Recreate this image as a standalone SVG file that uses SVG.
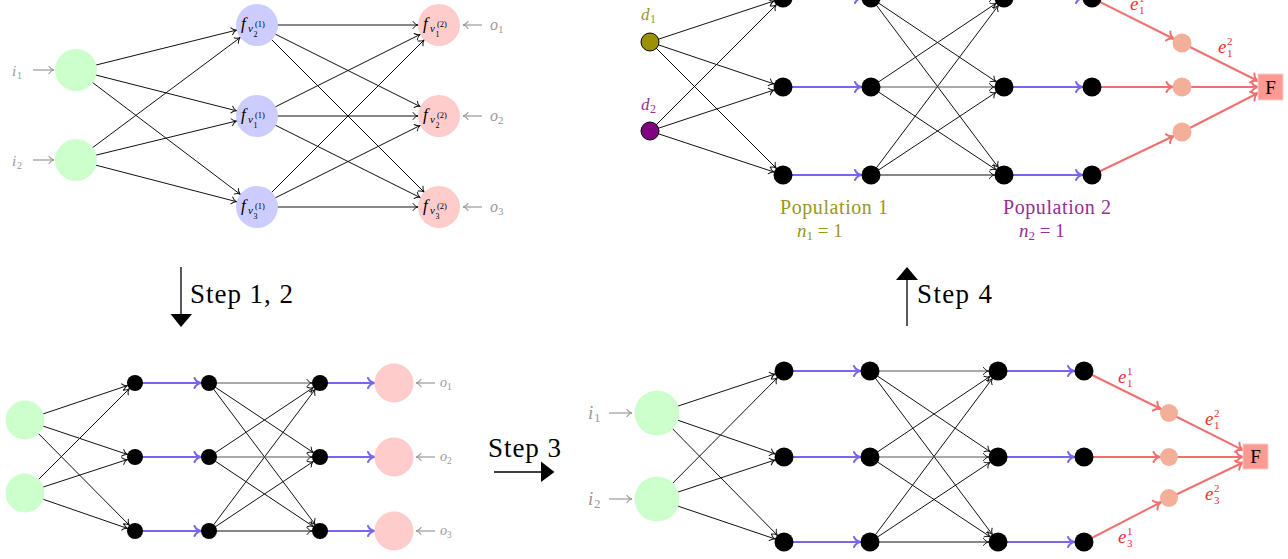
<svg xmlns="http://www.w3.org/2000/svg" width="1288" height="559" viewBox="0 0 1288 559" font-family="'Liberation Serif', 'Times New Roman', serif">
<style>
.e{stroke:#111;stroke-width:1;fill:none}
.eg{stroke:#555;stroke-width:1;fill:none}
.b{stroke:#7766ee;stroke-width:2;fill:none}
.r{stroke:#f07070;stroke-width:2;fill:none}
.g{stroke:#999;stroke-width:1.2;fill:none}
.t,text,tspan{font-family:'Liberation Serif','Times New Roman',serif}
.it{font-style:italic}
.grn{fill:#ccffcc}
.blu{fill:#ccccff}
.pnk{fill:#ffcccc}
.blk{fill:#000}
.sal{fill:#f4af9b}
.fbox{fill:#fa9a92;stroke:#fcc;stroke-width:1}
.gt{fill:#999}
.rt{fill:#f03030}
.ol{fill:#9c9620}
.pu{fill:#952e95}
</style>
<defs>
<marker id="ak21" markerUnits="userSpaceOnUse" orient="auto" refX="21" refY="0" markerWidth="1" markerHeight="1" overflow="visible"><path d="M-5,-3.5 C-3.5,-1.2 -1.5,-0.3 0,0 C-1.5,0.3 -3.5,1.2 -5,3.5" fill="none" stroke="#111" stroke-width="1" stroke-linecap="round"/></marker>
<marker id="ak95" markerUnits="userSpaceOnUse" orient="auto" refX="9.5" refY="0" markerWidth="1" markerHeight="1" overflow="visible"><path d="M-5,-3.5 C-3.5,-1.2 -1.5,-0.3 0,0 C-1.5,0.3 -3.5,1.2 -5,3.5" fill="none" stroke="#111" stroke-width="1" stroke-linecap="round"/></marker>
<marker id="ak8" markerUnits="userSpaceOnUse" orient="auto" refX="8" refY="0" markerWidth="1" markerHeight="1" overflow="visible"><path d="M-5,-3.5 C-3.5,-1.2 -1.5,-0.3 0,0 C-1.5,0.3 -3.5,1.2 -5,3.5" fill="none" stroke="#111" stroke-width="1" stroke-linecap="round"/></marker>
<marker id="ab95" markerUnits="userSpaceOnUse" orient="auto" refX="9.5" refY="0" markerWidth="1" markerHeight="1" overflow="visible"><path d="M-6.5,-5 C-5,-1.8 -2,-0.4 0,0 C-2,0.4 -5,1.8 -6.5,5" fill="none" stroke="#7766ee" stroke-width="2" stroke-linecap="round"/></marker>
<marker id="ab8" markerUnits="userSpaceOnUse" orient="auto" refX="8" refY="0" markerWidth="1" markerHeight="1" overflow="visible"><path d="M-6.5,-5 C-5,-1.8 -2,-0.4 0,0 C-2,0.4 -5,1.8 -6.5,5" fill="none" stroke="#7766ee" stroke-width="2" stroke-linecap="round"/></marker>
<marker id="ab195" markerUnits="userSpaceOnUse" orient="auto" refX="19.5" refY="0" markerWidth="1" markerHeight="1" overflow="visible"><path d="M-6.5,-5 C-5,-1.8 -2,-0.4 0,0 C-2,0.4 -5,1.8 -6.5,5" fill="none" stroke="#7766ee" stroke-width="2" stroke-linecap="round"/></marker>
<marker id="ar9" markerUnits="userSpaceOnUse" orient="auto" refX="9" refY="0" markerWidth="1" markerHeight="1" overflow="visible"><path d="M-6.5,-5 C-5,-1.8 -2,-0.4 0,0 C-2,0.4 -5,1.8 -6.5,5" fill="none" stroke="#f07070" stroke-width="2" stroke-linecap="round"/></marker>
<marker id="ar0" markerUnits="userSpaceOnUse" orient="auto" refX="0" refY="0" markerWidth="1" markerHeight="1" overflow="visible"><path d="M-6.5,-5 C-5,-1.8 -2,-0.4 0,0 C-2,0.4 -5,1.8 -6.5,5" fill="none" stroke="#f07070" stroke-width="2" stroke-linecap="round"/></marker>
<marker id="ag0" markerUnits="userSpaceOnUse" orient="auto" refX="0" refY="0" markerWidth="1" markerHeight="1" overflow="visible"><path d="M-5,-3.5 C-3.5,-1.2 -1.5,-0.3 0,0 C-1.5,0.3 -3.5,1.2 -5,3.5" fill="none" stroke="#999" stroke-width="1.2" stroke-linecap="round"/></marker>
</defs>

<g id="connectors">
<g class="e" marker-end="url(#ak21)">
<line x1="76" y1="70" x2="257" y2="25"/><line x1="76" y1="70" x2="257" y2="116"/><line x1="76" y1="70" x2="257" y2="207"/>
<line x1="76" y1="160" x2="257" y2="25"/><line x1="76" y1="160" x2="257" y2="116"/><line x1="76" y1="160" x2="257" y2="207"/>
<line x1="257" y1="25" x2="439" y2="25"/><line x1="257" y1="25" x2="439" y2="116"/><line x1="257" y1="25" x2="439" y2="207"/>
<line x1="257" y1="116" x2="439" y2="25"/><line x1="257" y1="116" x2="439" y2="116"/><line x1="257" y1="116" x2="439" y2="207"/>
<line x1="257" y1="207" x2="439" y2="25"/><line x1="257" y1="207" x2="439" y2="116"/><line x1="257" y1="207" x2="439" y2="207"/>
</g>
<g class="g" marker-end="url(#ag0)">
<line x1="33" y1="70" x2="54" y2="70"/><line x1="33" y1="160" x2="54" y2="160"/>
<line x1="482" y1="25" x2="463" y2="25"/><line x1="482" y1="116" x2="463" y2="116"/><line x1="482" y1="207" x2="463" y2="207"/>
<line x1="435" y1="383" x2="416" y2="383"/><line x1="435" y1="457" x2="416" y2="457"/><line x1="435" y1="531" x2="416" y2="531"/>
<line x1="609" y1="413" x2="632" y2="413"/><line x1="609" y1="499" x2="632" y2="499"/>
</g>
<g class="e" marker-end="url(#ak95)">
<line x1="650" y1="42" x2="783" y2="-2"/><line x1="650" y1="42" x2="783" y2="87"/><line x1="650" y1="42" x2="783" y2="175"/>
<line x1="650" y1="131" x2="783" y2="-2"/><line x1="650" y1="131" x2="783" y2="87"/><line x1="650" y1="131" x2="783" y2="175"/>
<line x1="871" y1="-2" x2="1004" y2="-2"/><line x1="871" y1="-2" x2="1004" y2="87"/><line x1="871" y1="-2" x2="1004" y2="175"/>
<line x1="871" y1="87" x2="1004" y2="-2"/><line x1="871" y1="87" x2="1004" y2="175"/>
<line x1="871" y1="175" x2="1004" y2="-2"/><line x1="871" y1="175" x2="1004" y2="87"/><line x1="871" y1="175" x2="1004" y2="175"/>
<line class="eg" x1="871" y1="87" x2="1004" y2="87"/>
</g>
<g class="b" marker-end="url(#ab95)">
<line x1="783" y1="-2" x2="871" y2="-2"/><line x1="783" y1="87" x2="871" y2="87"/><line x1="783" y1="175" x2="871" y2="175"/>
<line x1="1004" y1="-2" x2="1092" y2="-2"/><line x1="1004" y1="87" x2="1092" y2="87"/><line x1="1004" y1="175" x2="1092" y2="175"/>
</g>
<g class="r" marker-end="url(#ar9)">
<line x1="1092" y1="-2" x2="1182" y2="43"/><line x1="1092" y1="87" x2="1182" y2="87"/><line x1="1092" y1="175" x2="1182" y2="132"/>
<line x1="1084" y1="371" x2="1169" y2="413"/><line x1="1084" y1="457" x2="1169" y2="457"/><line x1="1084" y1="542" x2="1169" y2="498"/>
</g>
<g class="r" marker-end="url(#ar0)">
<line x1="1182" y1="43" x2="1258" y2="81"/><line x1="1182" y1="87" x2="1258" y2="87"/><line x1="1182" y1="132" x2="1258" y2="93"/>
<line x1="1169" y1="413" x2="1243" y2="450.2"/><line x1="1169" y1="457" x2="1243" y2="457"/><line x1="1169" y1="498" x2="1243" y2="462.5"/>
</g>
<g class="e" marker-end="url(#ak8)">
<line x1="25" y1="420" x2="135" y2="383"/><line x1="25" y1="420" x2="135" y2="457"/><line x1="25" y1="420" x2="135" y2="531"/>
<line x1="25" y1="493" x2="135" y2="383"/><line x1="25" y1="493" x2="135" y2="457"/><line x1="25" y1="493" x2="135" y2="531"/>
<line x1="209" y1="383" x2="320" y2="457"/><line x1="209" y1="383" x2="320" y2="531"/>
<line x1="209" y1="457" x2="320" y2="383"/><line x1="209" y1="457" x2="320" y2="531"/>
<line x1="209" y1="531" x2="320" y2="383"/><line x1="209" y1="531" x2="320" y2="457"/><line x1="209" y1="531" x2="320" y2="531"/>
<line class="eg" x1="209" y1="383" x2="320" y2="383"/><line class="eg" x1="209" y1="457" x2="320" y2="457"/>
</g>
<g class="b" marker-end="url(#ab8)">
<line x1="135" y1="383" x2="209" y2="383"/><line x1="135" y1="457" x2="209" y2="457"/><line x1="135" y1="531" x2="209" y2="531"/>
</g>
<g class="b" marker-end="url(#ab195)">
<line x1="320" y1="383" x2="394" y2="383"/><line x1="320" y1="457" x2="394" y2="457"/><line x1="320" y1="531" x2="394" y2="531"/>
</g>
<g class="e" marker-end="url(#ak95)">
<line x1="657" y1="413" x2="784" y2="371"/><line x1="657" y1="413" x2="784" y2="457"/><line x1="657" y1="413" x2="784" y2="542"/>
<line x1="657" y1="499" x2="784" y2="371"/><line x1="657" y1="499" x2="784" y2="457"/><line x1="657" y1="499" x2="784" y2="542"/>
<line x1="870" y1="371" x2="998" y2="457"/><line x1="870" y1="371" x2="998" y2="542"/>
<line x1="870" y1="457" x2="998" y2="371"/><line x1="870" y1="457" x2="998" y2="542"/>
<line x1="870" y1="542" x2="998" y2="371"/><line x1="870" y1="542" x2="998" y2="457"/><line x1="870" y1="542" x2="998" y2="542"/>
<line class="eg" x1="870" y1="371" x2="998" y2="371"/><line class="eg" x1="870" y1="457" x2="998" y2="457"/>
</g>
<g class="b" marker-end="url(#ab95)">
<line x1="784" y1="371" x2="870" y2="371"/><line x1="784" y1="457" x2="870" y2="457"/><line x1="784" y1="542" x2="870" y2="542"/>
<line x1="998" y1="371" x2="1084" y2="371"/><line x1="998" y1="457" x2="1084" y2="457"/><line x1="998" y1="542" x2="1084" y2="542"/>
</g>
<g id="steps" fill="#000" stroke="#000">
<line x1="181" y1="267" x2="181" y2="315" stroke-width="1.3"/>
<polygon points="170.5,314 192,314 181,327" stroke="none"/>
<line x1="494" y1="472" x2="542" y2="472" stroke-width="1.3"/>
<polygon points="541,461.5 541,482 554.5,472" stroke="none"/>
<line x1="907" y1="326" x2="907" y2="279" stroke-width="1.3"/>
<polygon points="896,280 918,280 907,267" stroke="none"/>
</g>
</g>

<g id="tl-in1"><circle class="grn" cx="76" cy="70" r="21"/></g>
<g id="tl-in2"><circle class="grn" cx="76" cy="160" r="21"/></g>
<g id="tl-h1">
<circle class="blu" cx="257" cy="25" r="21"/>
<text class="it" x="241" y="28.5" font-size="17">f</text><text class="it" x="248" y="31.5" font-size="11">v</text><text x="255" y="27" font-size="8.5">(1)</text><text x="253.5" y="37" font-size="8">2</text>
</g>
<g id="tl-h2">
<circle class="blu" cx="257" cy="116" r="21"/>
<text class="it" x="241" y="119.5" font-size="17">f</text><text class="it" x="248" y="122.5" font-size="11">v</text><text x="255" y="118" font-size="8.5">(1)</text><text x="253.5" y="128" font-size="8">1</text>
</g>
<g id="tl-h3">
<circle class="blu" cx="257" cy="207" r="21"/>
<text class="it" x="241" y="210.5" font-size="17">f</text><text class="it" x="248" y="213.5" font-size="11">v</text><text x="255" y="209" font-size="8.5">(1)</text><text x="253.5" y="219" font-size="8">3</text>
</g>
<g id="tl-o1">
<circle class="pnk" cx="439" cy="25" r="21"/>
<text class="it" x="423" y="28.5" font-size="17">f</text><text class="it" x="430" y="31.5" font-size="11">v</text><text x="437" y="27" font-size="8.5">(2)</text><text x="435.5" y="37" font-size="8">1</text>
</g>
<g id="tl-o2">
<circle class="pnk" cx="439" cy="116" r="21"/>
<text class="it" x="423" y="119.5" font-size="17">f</text><text class="it" x="430" y="122.5" font-size="11">v</text><text x="437" y="118" font-size="8.5">(2)</text><text x="435.5" y="128" font-size="8">2</text>
</g>
<g id="tl-o3">
<circle class="pnk" cx="439" cy="207" r="21"/>
<text class="it" x="423" y="210.5" font-size="17">f</text><text class="it" x="430" y="213.5" font-size="11">v</text><text x="437" y="209" font-size="8.5">(2)</text><text x="435.5" y="219" font-size="8">3</text>
</g>
<g id="tl-labels" class="gt">
<text class="it" x="12" y="76" font-size="15">i</text><text x="17" y="78.5" font-size="10">1</text>
<text class="it" x="12" y="166" font-size="15">i</text><text x="17" y="168.5" font-size="10">2</text>
<text class="it" x="490" y="30" font-size="16">o</text><text x="498" y="33" font-size="11">1</text>
<text class="it" x="490" y="121" font-size="16">o</text><text x="498" y="124" font-size="11">2</text>
<text class="it" x="490" y="212" font-size="16">o</text><text x="498" y="215" font-size="11">3</text>
</g>

<g id="tr-d1">
<circle cx="650" cy="42" r="9" fill="#999100" stroke="#000" stroke-width="1"/>
<text class="it ol" x="641" y="20" font-size="17">d</text><text class="ol" x="650" y="23" font-size="12">1</text>
</g>
<g id="tr-d2">
<circle cx="650" cy="131" r="9" fill="#800080" stroke="#000" stroke-width="1"/>
<text class="it pu" x="641" y="110" font-size="17">d</text><text class="pu" x="650" y="113" font-size="12">2</text>
</g>
<g id="tr-black" class="blk">
<circle cx="783" cy="-2" r="9.5"/><circle cx="783" cy="87" r="9.5"/><circle cx="783" cy="175" r="9.5"/>
<circle cx="871" cy="-2" r="9.5"/><circle cx="871" cy="87" r="9.5"/><circle cx="871" cy="175" r="9.5"/>
<circle cx="1004" cy="-2" r="9.5"/><circle cx="1004" cy="87" r="9.5"/><circle cx="1004" cy="175" r="9.5"/>
<circle cx="1092" cy="-2" r="9.5"/><circle cx="1092" cy="87" r="9.5"/><circle cx="1092" cy="175" r="9.5"/>
</g>
<g id="tr-sal" class="sal">
<circle cx="1182" cy="43" r="9.5"/><circle cx="1182" cy="87" r="9.5"/><circle cx="1182" cy="132" r="9.5"/>
</g>
<g id="tr-F">
<rect class="fbox" x="1258" y="74" width="25" height="26"/>
<text x="1270.5" y="93.5" font-size="19" text-anchor="middle" fill="#000">F</text>
</g>
<g id="tr-labels">
<text class="it rt" x="1130" y="10" font-size="19">e</text><text class="rt" x="1139" y="2" font-size="11">1</text><text class="rt" x="1139" y="14" font-size="11">1</text>
<text class="it rt" x="1218" y="53" font-size="19">e</text><text class="rt" x="1227" y="45" font-size="11">2</text><text class="rt" x="1227" y="57" font-size="11">1</text>
<text class="ol" x="780" y="214" font-size="20" textLength="108">Population 1</text>
<text class="ol" x="797" y="237" font-size="19"><tspan class="it">n</tspan><tspan font-size="13" dy="3">1</tspan><tspan dy="-3"> = 1</tspan></text>
<text class="pu" x="1003" y="214" font-size="20" textLength="108">Population 2</text>
<text class="pu" x="1019" y="237" font-size="19"><tspan class="it">n</tspan><tspan font-size="13" dy="3">2</tspan><tspan dy="-3"> = 1</tspan></text>
</g>

<g id="bl-in1"><circle class="grn" cx="25" cy="420" r="19.5"/></g>
<g id="bl-in2"><circle class="grn" cx="25" cy="493" r="19.5"/></g>
<g id="bl-black" class="blk">
<circle cx="135" cy="383" r="8"/><circle cx="135" cy="457" r="8"/><circle cx="135" cy="531" r="8"/>
<circle cx="209" cy="383" r="8"/><circle cx="209" cy="457" r="8"/><circle cx="209" cy="531" r="8"/>
<circle cx="320" cy="383" r="8"/><circle cx="320" cy="457" r="8"/><circle cx="320" cy="531" r="8"/>
</g>
<g id="bl-out" class="pnk">
<circle cx="394" cy="383" r="19.5"/><circle cx="394" cy="457" r="19.5"/><circle cx="394" cy="531" r="19.5"/>
</g>
<g id="bl-labels" class="gt">
<text class="it" x="440" y="387" font-size="14">o</text><text x="447" y="390" font-size="9.5">1</text>
<text class="it" x="440" y="461" font-size="14">o</text><text x="447" y="464" font-size="9.5">2</text>
<text class="it" x="440" y="535" font-size="14">o</text><text x="447" y="538" font-size="9.5">3</text>
</g>

<g id="br-in1"><circle class="grn" cx="657" cy="413" r="22.5"/></g>
<g id="br-in2"><circle class="grn" cx="657" cy="499" r="22.5"/></g>
<g id="br-black" class="blk">
<circle cx="784" cy="371" r="9.5"/><circle cx="784" cy="457" r="9.5"/><circle cx="784" cy="542" r="9.5"/>
<circle cx="870" cy="371" r="9.5"/><circle cx="870" cy="457" r="9.5"/><circle cx="870" cy="542" r="9.5"/>
<circle cx="998" cy="371" r="9.5"/><circle cx="998" cy="457" r="9.5"/><circle cx="998" cy="542" r="9.5"/>
<circle cx="1084" cy="371" r="9.5"/><circle cx="1084" cy="457" r="9.5"/><circle cx="1084" cy="542" r="9.5"/>
</g>
<g id="br-sal" class="sal">
<circle cx="1169" cy="413" r="9"/><circle cx="1169" cy="457" r="9"/><circle cx="1169" cy="498" r="9"/>
</g>
<g id="br-F">
<rect class="fbox" x="1243" y="444" width="25" height="25"/>
<text x="1255.5" y="463" font-size="19" text-anchor="middle" fill="#000">F</text>
</g>
<g id="br-labels">
<text class="it gt" x="588" y="419" font-size="19">i</text><text class="gt" x="594" y="422" font-size="13">1</text>
<text class="it gt" x="588" y="505" font-size="19">i</text><text class="gt" x="594" y="508" font-size="13">2</text>
<text class="it rt" x="1118" y="383" font-size="19">e</text><text class="rt" x="1127" y="375" font-size="11">1</text><text class="rt" x="1127" y="387" font-size="11">1</text>
<text class="it rt" x="1205" y="425" font-size="19">e</text><text class="rt" x="1214" y="417" font-size="11">2</text><text class="rt" x="1214" y="429" font-size="11">1</text>
<text class="it rt" x="1205" y="500" font-size="19">e</text><text class="rt" x="1214" y="492" font-size="11">2</text><text class="rt" x="1214" y="504" font-size="11">3</text>
<text class="it rt" x="1118" y="543" font-size="19">e</text><text class="rt" x="1127" y="535" font-size="11">1</text><text class="rt" x="1127" y="547" font-size="11">3</text>
</g>

<g id="step-labels" fill="#000">
<text x="190" y="303" font-size="27" textLength="103">Step 1, 2</text>
<text x="488" y="457" font-size="27" textLength="73">Step 3</text>
<text x="917" y="303" font-size="27" textLength="75">Step 4</text>
</g>
</svg>
